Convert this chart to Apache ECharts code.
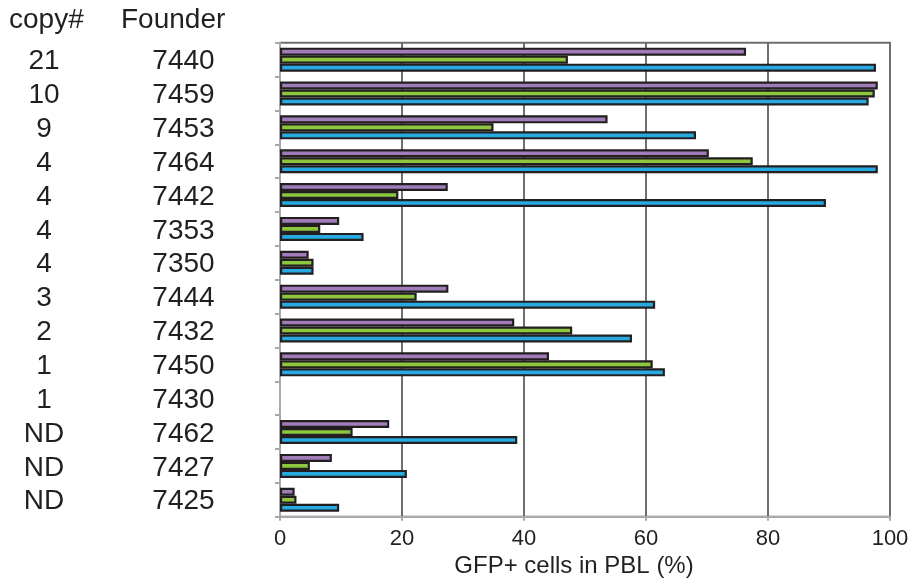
<!DOCTYPE html>
<html>
<head>
<meta charset="utf-8">
<script src="https://cdn.jsdelivr.net/npm/echarts@6/dist/echarts.min.js"></script>
<style>
html,body{margin:0;padding:0;background:#fff;}
#chart{width:908px;height:579px;}
</style>
</head>
<body>
<div id="chart"></div>
<script>
const founders = ['7440','7459','7453','7464','7442','7353','7350','7444','7432','7450','7430','7462','7427','7425'];
const copies = ['21','10','9','4','4','4','4','3','2','1','1','ND','ND','ND'];
const purpleVals = [76.4, 98.0, 53.7, 70.3, 27.5, 9.7, 4.7, 27.6, 38.4, 44.1, null, 17.9, 8.5, 2.4];
const greenVals  = [47.2, 97.5, 35.0, 77.5, 19.4, 6.6, 5.5, 22.4, 47.9, 61.1, null, 11.9, 4.9, 2.7];
const blueVals   = [97.7, 96.5, 68.2, 98.0, 89.5, 13.7, 5.5, 61.5, 57.7, 63.1, null, 38.9, 20.8, 9.7];
const xTicks = [0, 20, 40, 60, 80, 100];

const FONT = "'Liberation Sans', Arial, Helvetica, sans-serif";
const TXT = '#231f20';
const chart = echarts.init(document.getElementById('chart'), null, {renderer: 'canvas'});

function barSeries(name, data, color) {
  return {
    name: name,
    type: 'bar',
    data: data,
    barWidth: 8,
    barGap: '0%',
    itemStyle: {color: color, borderColor: TXT, borderWidth: 2.2},
    emphasis: {disabled: true}
  };
}

chart.setOption({
  animation: false,
  grid: {left: 280, right: 18, top: 42.7, bottom: 62.3, containLabel: false, outerBoundsMode: 'none',
         show: true, borderColor: '#6d6e71', borderWidth: 2, backgroundColor: 'transparent'},
  xAxis: {
    type: 'value', min: xTicks[0], max: xTicks[xTicks.length - 1], interval: 20,
    axisLine: {show: true, lineStyle: {color: '#a7a9ac', width: 2}},
    axisTick: {show: true, length: 4, inside: false, lineStyle: {color: '#a7a9ac', width: 2}},
    axisLabel: {fontFamily: FONT, fontSize: 22, color: TXT, margin: 11},
    splitLine: {show: true, lineStyle: {color: ['#a7a9ac', '#6d6e71', '#6d6e71', '#6d6e71', '#6d6e71', '#6d6e71'], width: 2}},
    name: 'GFP+ cells in PBL (%)',
    nameLocation: 'middle',
    nameGap: 33,
    nameTextStyle: {fontFamily: FONT, fontSize: 24, color: TXT, padding: [0, 22, 0, 0]}
  },
  yAxis: {
    type: 'category', inverse: true, data: founders,
    axisLine: {show: true, lineStyle: {color: '#a7a9ac', width: 2}},
    axisTick: {show: true, length: 5, interval: 0, lineStyle: {color: '#a7a9ac', width: 2}},
    splitLine: {show: false},
    axisLabel: {
      interval: 0, margin: 1, padding: [4, 0, 0, 0],
      formatter: function (v, i) { return '{c|' + copies[i] + '}{f|' + v + '}'; },
      rich: {
        c: {width: 88, align: 'center', fontFamily: FONT, fontSize: 28, color: TXT},
        f: {width: 191, align: 'center', fontFamily: FONT, fontSize: 28, color: TXT}
      }
    }
  },
  graphic: [
    {type: 'text', left: 9, top: 6, style: {text: 'copy#', font: '28px ' + FONT, fill: TXT}},
    {type: 'text', left: 121, top: 6, style: {text: 'Founder', font: '28px ' + FONT, fill: TXT}}
  ],
  series: [
    barSeries('purple', purpleVals, '#a07cb8'),
    barSeries('green', greenVals, '#8dc63f'),
    barSeries('blue', blueVals, '#27aae1')
  ]
});
</script>
</body>
</html>
